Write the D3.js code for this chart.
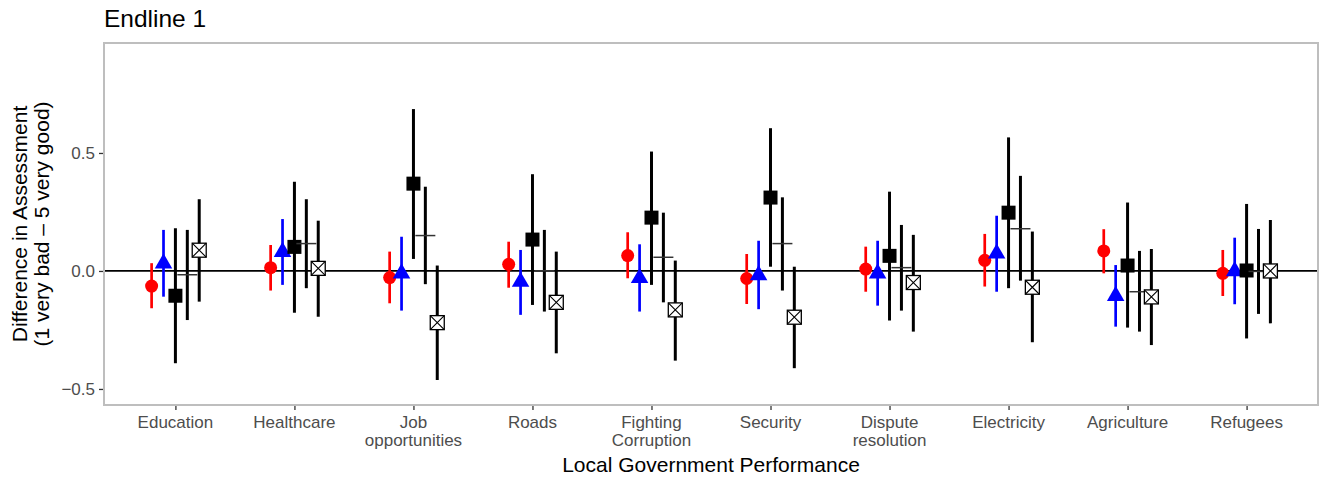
<!DOCTYPE html>
<html>
<head>
<meta charset="utf-8">
<script src="https://cdnjs.cloudflare.com/ajax/libs/d3/7.8.5/d3.min.js"></script>
<style>
  body { margin: 0; background: #fff; }
  text { font-family: "Liberation Sans", Arial, sans-serif; }
</style>
</head>
<body>
<script>
var width = 1321,
    height = 478;

// Categories along the x axis ("\n" splits a label on two lines)
var categories = ["Education", "Healthcare", "Job\nopportunities", "Roads", "Fighting\nCorruption",
                  "Security", "Dispute\nresolution", "Electricity", "Agriculture", "Refugees"];

var yTicks = [-0.5, 0, 0.5];

// Series 1 - red circles
var s1Est = [-0.064, 0.014, -0.028, 0.028, 0.065, -0.032, 0.008, 0.045, 0.085, -0.010];
var s1Lo  = [-0.158, -0.083, -0.137, -0.071, -0.031, -0.140, -0.088, -0.066, -0.010, -0.106];
var s1Hi  = [0.033, 0.110, 0.082, 0.124, 0.164, 0.072, 0.103, 0.157, 0.177, 0.089];

// Series 2 - blue triangles
var s2Est = [0.032, 0.081, -0.010, -0.046, -0.030, -0.018, -0.010, 0.074, -0.106, -0.001];
var s2Lo  = [-0.109, -0.059, -0.168, -0.186, -0.172, -0.162, -0.147, -0.088, -0.236, -0.141];
var s2Hi  = [0.174, 0.220, 0.145, 0.089, 0.113, 0.128, 0.128, 0.234, 0.025, 0.141];

// Series 3 - black squares
var s3Est = [-0.105, 0.102, 0.370, 0.133, 0.226, 0.311, 0.064, 0.247, 0.023, 0.002];
var s3Lo  = [-0.391, -0.177, 0.051, -0.144, -0.059, 0.018, -0.210, -0.073, -0.240, -0.286];
var s3Hi  = [0.181, 0.378, 0.686, 0.410, 0.506, 0.605, 0.336, 0.566, 0.290, 0.284];

// Series 4 - horizontal dash
var s4Est = [-0.016, 0.116, 0.150, 0.001, 0.058, 0.116, 0.014, 0.179, -0.088, -0.002];
var s4Lo  = [-0.208, -0.073, -0.056, -0.172, -0.133, -0.083, -0.168, -0.041, -0.257, -0.182];
var s4Hi  = [0.174, 0.304, 0.357, 0.174, 0.247, 0.312, 0.195, 0.403, 0.085, 0.178];

// Series 5 - boxed cross
var s5Est = [0.088, 0.011, -0.219, -0.133, -0.165, -0.196, -0.049, -0.069, -0.110, 0.000];
var s5Lo  = [-0.130, -0.194, -0.462, -0.349, -0.380, -0.412, -0.257, -0.302, -0.314, -0.222];
var s5Hi  = [0.304, 0.213, 0.023, 0.082, 0.044, 0.018, 0.153, 0.167, 0.093, 0.216];

var series = [
    {est: s1Est, lo: s1Lo, hi: s1Hi, shape: "circle",   color: "#FF0000", bw: 2.7},
    {est: s2Est, lo: s2Lo, hi: s2Hi, shape: "triangle", color: "#0000FF", bw: 2.7},
    {est: s3Est, lo: s3Lo, hi: s3Hi, shape: "square",   color: "#000000", bw: 3},
    {est: s4Est, lo: s4Lo, hi: s4Hi, shape: "dash",     color: "#000000", bw: 3},
    {est: s5Est, lo: s5Lo, hi: s5Hi, shape: "boxx",     color: "#000000", bw: 3}
];

var panel = {left: 104, right: 1318, top: 43, bottom: 405};

var x = d3.scalePoint()
    .domain(categories)
    .range([panel.left, panel.right])
    .padding(0.6);

var y = d3.scaleLinear()
    .domain([-0.568, 0.966])
    .range([panel.bottom, panel.top]);

var dodge = x.step() * 0.1;

var svg = d3.select("body").append("svg")
    .attr("width", width)
    .attr("height", height);

// Title
svg.append("text")
    .attr("x", panel.left)
    .attr("y", 27)
    .attr("font-size", 24.5)
    .attr("fill", "#000")
    .text("Endline 1");

// Zero reference line
svg.append("line")
    .attr("x1", panel.left).attr("x2", panel.right)
    .attr("y1", y(0)).attr("y2", y(0))
    .attr("stroke", "#000")
    .attr("stroke-width", 1.7);

// Flatten rows per series
series.forEach(function(s, si) {
    s.rows = categories.map(function(c, i) {
        return {cat: c, est: s.est[i], lo: s.lo[i], hi: s.hi[i], cx: x(c) + (si - 2) * dodge};
    });
});

// Error bars first, then markers on top
series.forEach(function(s) {
    svg.append("g").selectAll("line")
        .data(s.rows)
        .enter().append("line")
        .attr("x1", function(d) { return d.cx; })
        .attr("x2", function(d) { return d.cx; })
        .attr("y1", function(d) { return y(d.lo); })
        .attr("y2", function(d) { return y(d.hi); })
        .attr("stroke", s.color)
        .attr("stroke-width", s.bw);
});

series.forEach(function(s) {
    var g = svg.append("g");
    var pts = g.selectAll("g").data(s.rows).enter().append("g")
        .attr("transform", function(d) { return "translate(" + d.cx + "," + y(d.est) + ")"; });

    if (s.shape === "circle") {
        pts.append("circle").attr("r", 6.5).attr("fill", s.color);
    } else if (s.shape === "triangle") {
        var a = 6.5;
        pts.append("path")
            .attr("d", "M0," + (-1.555 * a) + "L" + (1.347 * a) + "," + (0.778 * a) +
                       "L" + (-1.347 * a) + "," + (0.778 * a) + "Z")
            .attr("fill", s.color);
    } else if (s.shape === "square") {
        pts.append("rect").attr("x", -7).attr("y", -7).attr("width", 14).attr("height", 14)
            .attr("fill", s.color);
    } else if (s.shape === "dash") {
        pts.append("line").attr("x1", -10).attr("x2", 10)
            .attr("stroke", "#333").attr("stroke-width", 1.5);
    } else {
        pts.append("rect").attr("x", -7).attr("y", -7).attr("width", 14).attr("height", 14)
            .attr("fill", "#fff").attr("stroke", "#000").attr("stroke-width", 1.3);
        pts.append("path").attr("d", "M-7,-7L7,7M7,-7L-7,7")
            .attr("stroke", "#000").attr("stroke-width", 1.1);
    }
});

// Panel border
svg.append("rect")
    .attr("x", panel.left).attr("y", panel.top)
    .attr("width", panel.right - panel.left)
    .attr("height", panel.bottom - panel.top)
    .attr("fill", "none")
    .attr("stroke", "#BEBEBE")
    .attr("stroke-width", 2);

// Y axis
var yAxis = svg.append("g")
    .attr("transform", "translate(" + (panel.left - 1) + ",0)")
    .call(d3.axisLeft(y).tickValues(yTicks).tickSize(4).tickPadding(4)
        .tickFormat(function(d) { return d3.format(".1f")(d).replace("-", "\u2212"); }));
yAxis.select(".domain").remove();
yAxis.selectAll(".tick line").attr("stroke", "#333").attr("stroke-width", 1.3);
yAxis.selectAll(".tick text").attr("font-size", 17).attr("fill", "#4D4D4D")
    .attr("font-family", "Liberation Sans, Arial, sans-serif");

// X axis
var xAxis = svg.append("g")
    .attr("transform", "translate(0," + (panel.bottom + 1) + ")")
    .call(d3.axisBottom(x).tickSize(4).tickFormat(""));
xAxis.select(".domain").remove();
xAxis.selectAll(".tick line").attr("stroke", "#333").attr("stroke-width", 1.3);

var xLabels = svg.append("g").selectAll("text")
    .data(categories)
    .enter().append("text")
    .attr("text-anchor", "middle")
    .attr("font-size", 17)
    .attr("fill", "#4D4D4D");
xLabels.each(function(c) {
    var t = d3.select(this);
    c.split("\n").forEach(function(line, i) {
        t.append("tspan").attr("x", x(c)).attr("y", 428 + i * 18).text(line);
    });
});

// Axis titles
svg.append("text")
    .attr("x", (panel.left + panel.right) / 2)
    .attr("y", 472)
    .attr("text-anchor", "middle")
    .attr("font-size", 21)
    .text("Local Government Performance");

var yTitle = svg.append("text")
    .attr("transform", "translate(0," + ((panel.top + panel.bottom) / 2) + ") rotate(-90)")
    .attr("text-anchor", "middle")
    .attr("font-size", 21);
yTitle.append("tspan").attr("x", 0).attr("y", 27).text("Difference in Assessment");
yTitle.append("tspan").attr("x", 0).attr("y", 49).text("(1 very bad \u2013 5 very good)");
</script>
</body>
</html>
